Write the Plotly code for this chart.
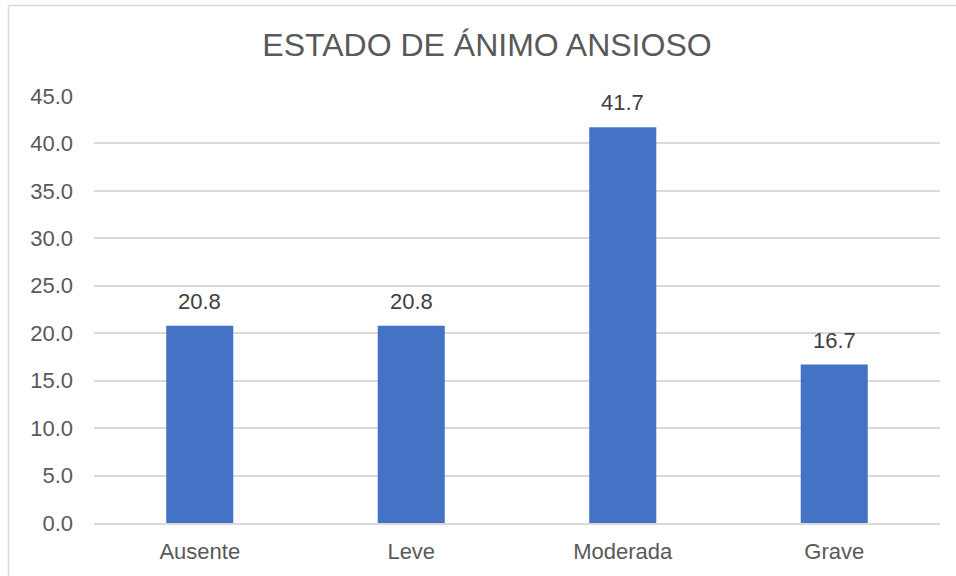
import plotly.graph_objects as go

# Chart data
categories = ["Ausente", "Leve", "Moderada", "Grave"]
values = [20.8, 20.8, 41.7, 16.7]
tick_values = [0, 5, 10, 15, 20, 25, 30, 35, 40, 45]
tick_labels = ["0.0", "5.0", "10.0", "15.0", "20.0", "25.0", "30.0", "35.0", "40.0", "45.0"]
title_text = "ESTADO DE ÁNIMO ANSIOSO"

W, H = 956, 576
ML, MR, MT, MB = 94, 16, 96, 53
PW, PH = W - ML - MR, H - MT - MB

FONT = "Liberation Sans, Arial, sans-serif"
TEXT_GRAY = "#595959"
GRID = "#D9D9D9"

fig = go.Figure()
fig.add_trace(go.Bar(
    x=categories,
    y=values,
    marker=dict(color="#4472C4", line=dict(width=0)),
    hoverinfo="x+y",
))

# value labels above each bar
for c, v in zip(categories, values):
    fig.add_annotation(
        x=c, y=v, text=f"{v:.1f}", showarrow=False,
        yanchor="bottom", yshift=10,
        font=dict(family=FONT, size=22, color="#404040"),
    )

# outer chart border (light gray frame)
def px_to_paper_x(px):
    return (px - ML) / PW

def px_to_paper_y(py):
    return (H - MB - py) / PH

fig.add_shape(
    type="rect", xref="paper", yref="paper",
    x0=px_to_paper_x(8.5), x1=px_to_paper_x(1000),
    y0=px_to_paper_y(620), y1=px_to_paper_y(5.5),
    line=dict(color=GRID, width=1.5), fillcolor="rgba(0,0,0,0)",
    layer="below",
)

fig.update_layout(
    width=W, height=H,
    margin=dict(l=ML, r=MR, t=MT, b=MB, autoexpand=False),
    paper_bgcolor="white",
    plot_bgcolor="white",
    bargap=0.683,
    showlegend=False,
    title=dict(
        text=title_text,
        x=px_to_paper_x(487), xref="paper", xanchor="center",
        y=1 - 45 / H, yref="container", yanchor="middle",
        font=dict(family=FONT, size=32, color=TEXT_GRAY),
        automargin=False,
    ),
    xaxis=dict(
        showgrid=False,
        showline=True, linecolor=GRID, linewidth=1.5,
        ticks="", ticklabelstandoff=8,
        tickfont=dict(family=FONT, size=22, color=TEXT_GRAY),
        fixedrange=True, automargin=False,
    ),
    yaxis=dict(
        range=[0, 45],
        tickmode="array", tickvals=tick_values, ticktext=tick_labels,
        showgrid=True, gridcolor=GRID, gridwidth=1.5,
        zeroline=False, showline=False,
        ticks="", ticklabelstandoff=20,
        tickfont=dict(family=FONT, size=22, color=TEXT_GRAY),
        fixedrange=True, automargin=False,
    ),
)

fig.write_html("out.html")
